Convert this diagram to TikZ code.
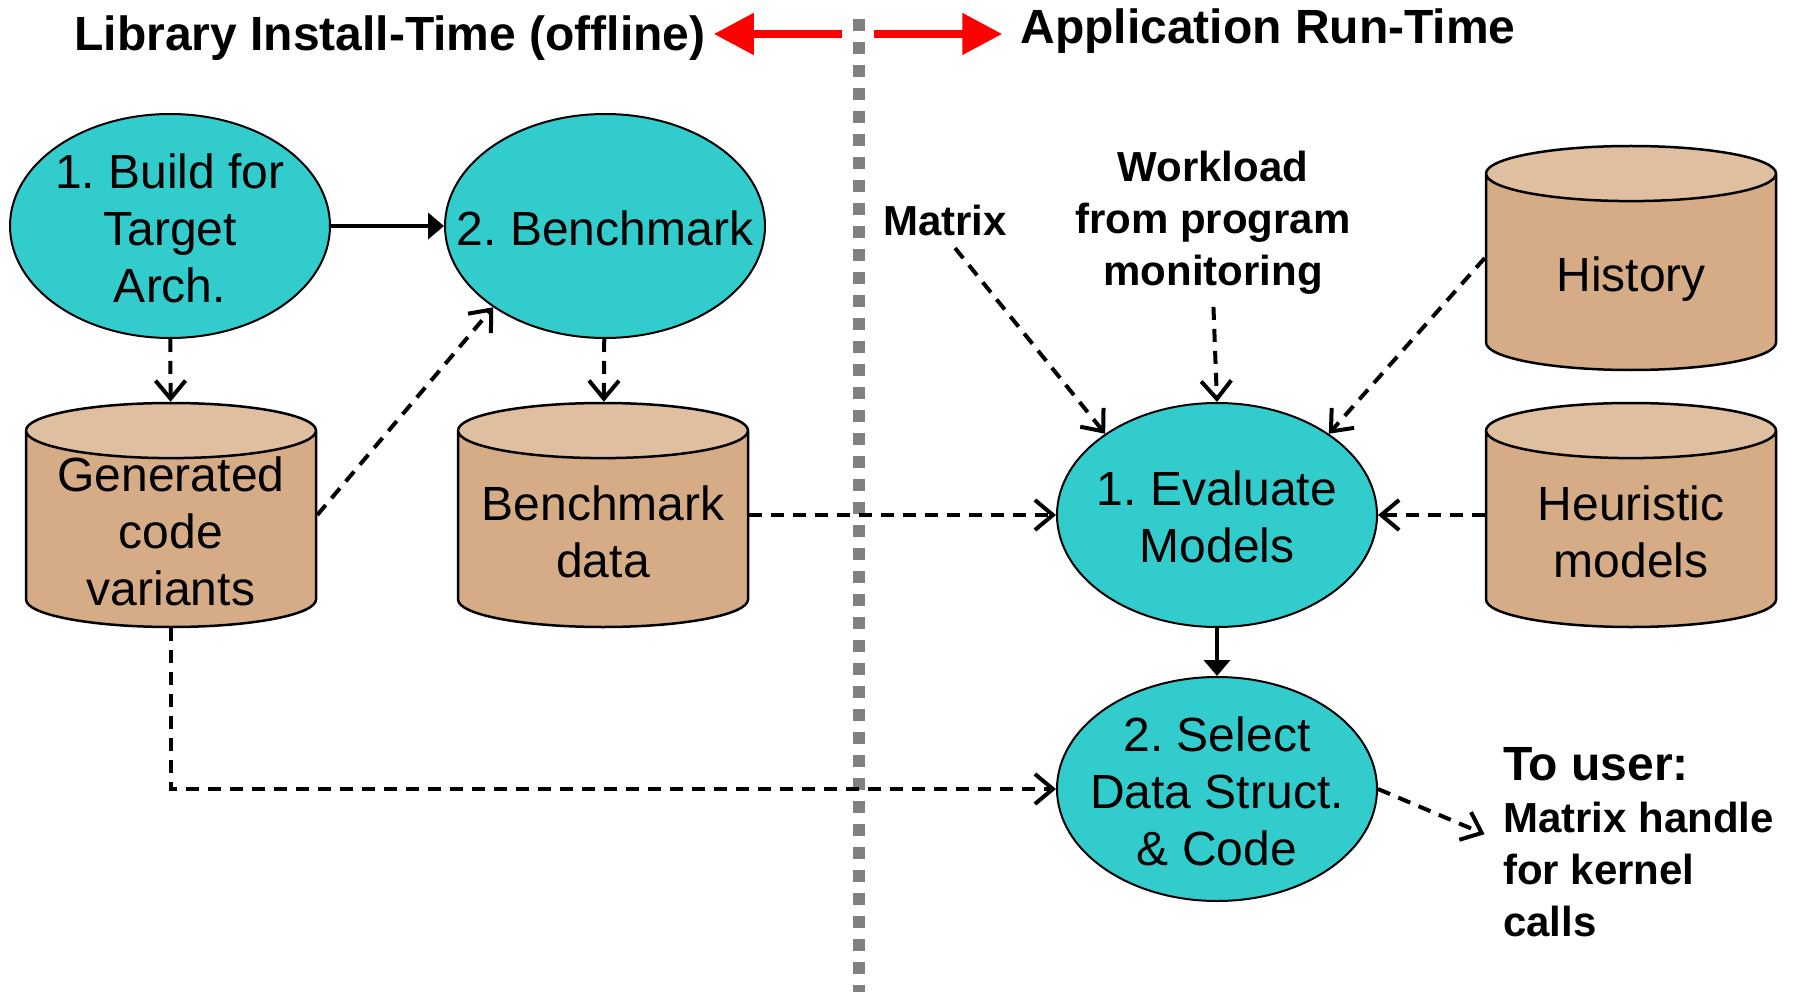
\documentclass[tikz,border=0pt]{standalone}
\usepackage{fontspec}
\setmainfont{Liberation Sans}
\usepackage{tikz}
\usetikzlibrary{positioning,arrows.meta,shapes.geometric}
\frenchspacing

\definecolor{stepcyan}{HTML}{33CCCC}
\definecolor{captan}{HTML}{DFBF9F}
\definecolor{bodytan}{HTML}{D5AC85}
\definecolor{sepgray}{HTML}{808080}
\newcommand{\inbox}[2][0pt]{\makebox[#1]{\smash{\raisebox{-14pt}{\begin{tabular}{@{}c@{}}#2\end{tabular}}}}}

\begin{document}
\begin{tikzpicture}[
  x=1pt, y=-1pt,
  proc/.style={ellipse, draw, line width=2pt, fill=stepcyan, minimum width=320pt,
               minimum height=224pt, inner sep=0pt, font=\fontsize{48}{57}\selectfont},
  store/.style={cylinder, shape border rotate=90, aspect=0.19, draw, line width=2.5pt,
                cylinder uses custom fill, cylinder body fill=bodytan, cylinder end fill=captan,
                minimum width=290pt, minimum height=224pt, inner sep=0pt,
                anchor=shape center, font=\fontsize{48}{57}\selectfont},
  lbl/.style={inner sep=0pt, align=center, font=\bfseries\fontsize{42}{52}\selectfont},
  ttl/.style={inner sep=0pt, font=\bfseries\fontsize{48}{57}\selectfont},
  arr/.style={-{Triangle[length=16pt,width=26pt]}, line width=4pt},
  darr/.style={-{Straight Barb[length=18pt,width=30pt]}, line width=4pt, dash pattern=on 13pt off 9pt},
  redarr/.style={-{Triangle[length=40pt,width=40pt]}, line width=8pt, red},
  sep/.style={line width=12pt, sepgray, dash pattern=on 12pt off 11pt}
]
\useasboundingbox (0,0) rectangle (1793,992);

\node[ttl] (lib) at (390,38) {Library Install-Time (offline)};
\node[ttl] (app) at (1268,31) {Application Run-Time};
\coordinate (ltail) at (842,34);
\coordinate (rtail) at (874,34);
\draw[redarr, shorten >=8pt]  (ltail) -- (lib.east |- ltail);
\draw[redarr, shorten >=18pt] (rtail) -- (app.west |- rtail);
\coordinate (septop) at (859,19);
\coordinate (sepbot) at (859,992);
\draw[sep] (septop) -- (sepbot);

\node[proc] (build) at (170,226) {\inbox{1. Build for\\Target\\Arch.}};
\node[proc, right=113pt of build] (bench) {\inbox{2. Benchmark}};
\node[store] (gen)   at (171,515) {\inbox[290pt]{Generated\\code\\variants}};
\node[store] (bdata) at (603,515) {\inbox[290pt]{Benchmark\\data}};

\node[proc] (eval) at (1217,515) {\inbox{1. Evaluate\\Models}};
\node[proc, below=48pt of eval] (sel) {\inbox{2. Select\\Data Struct.\\\& Code}};
\node[store] (hist) at (1631,258) {\inbox[290pt]{History}};
\node[store] (heur) at (1631,515) {\inbox[290pt]{Heuristic\\models}};

\node[lbl] (mtx)  at (945,220)  {Matrix};
\node[lbl] (work) at (1213,223) {Workload\\from program\\monitoring};
\node[lbl, align=left, anchor=west] (user) at (1503,842)
  {{\fontsize{48}{57}\selectfont To user:}\\Matrix handle\\for kernel\\calls};

\draw[arr]  (build) -- (bench);
\draw[darr] (build) -- (gen);
\draw[darr] (bench) -- (bdata);
\draw[darr] (gen.east |- gen.shape center) -- (bench.216);
\draw[darr] (bdata.east |- eval.west) -- (eval.west);
\draw[darr] (heur.west |- eval.east) -- (eval.east);
\draw[darr] (hist.west |- hist.shape center) -- (eval.36);
\draw[darr, shorten <=16pt] (mtx.south) -- (eval.144);
\draw[darr, shorten <=12pt] (work.south) -- (eval.north);
\draw[arr]  (eval) -- (sel);
\draw[darr] (gen.south) |- (sel.west);
\draw[darr, shorten >=20pt] (sel.east) -- (user.west);
\end{tikzpicture}
\end{document}
